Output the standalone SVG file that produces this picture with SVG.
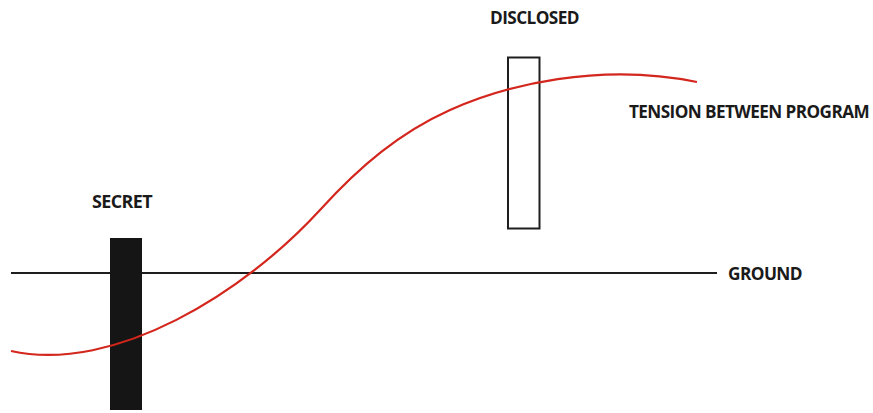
<svg xmlns="http://www.w3.org/2000/svg" width="873" height="413" viewBox="0 0 873 413">
<style>
.lbl{font-family:"Open Sans","Liberation Sans",sans-serif;font-weight:700;font-size:17.5px;fill:#1a1a1a;letter-spacing:-0.6px}
.curve{fill:none;stroke:#d3261d;stroke-width:2.2}
.ground{stroke:#1e1e1e;stroke-width:2}
</style>
<rect width="873" height="413" fill="#ffffff"/>
<g id="connectors">
<line id="ground-line" class="ground" x1="11" y1="273" x2="717" y2="273"/>
</g>
<g id="secret">
<rect x="110" y="238" width="32" height="172" fill="#151515"/>
<text class="lbl" x="92" y="208" textLength="60" lengthAdjust="spacingAndGlyphs">SECRET</text>
</g>
<g id="disclosed">
<rect x="508" y="57.5" width="31.5" height="171" fill="none" stroke="#1e1e1e" stroke-width="2"/>
<text class="lbl" x="490" y="24" textLength="89" lengthAdjust="spacingAndGlyphs">DISCLOSED</text>
</g>
<g id="tension">
<path class="curve" d="M11,351 C115,374 245,292 320,210 C360,166 400,132.5 450,110 C505,85 600,62 697,82"/>
<text class="lbl" x="629" y="118" textLength="240" lengthAdjust="spacingAndGlyphs">TENSION BETWEEN PROGRAM</text>
</g>
<g id="ground">
<text class="lbl" x="728" y="280" textLength="74" lengthAdjust="spacingAndGlyphs">GROUND</text>
</g>
</svg>
